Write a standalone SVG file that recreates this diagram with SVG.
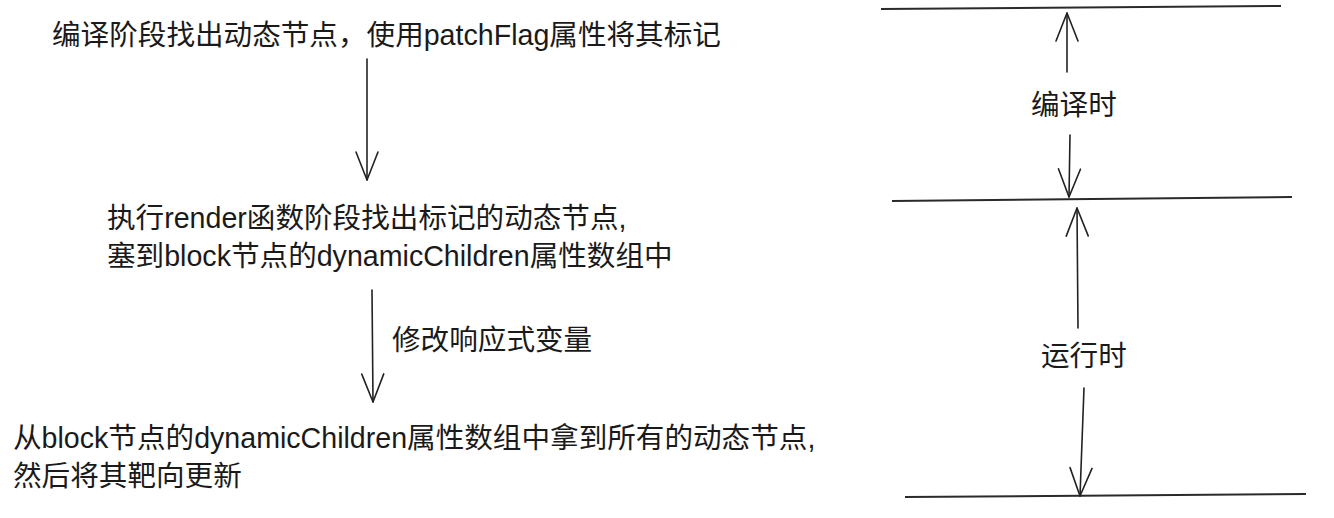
<svg xmlns="http://www.w3.org/2000/svg" width="1334" height="518" viewBox="0 0 1334 518">
<style>
  .t { font-family: "Liberation Sans", "Noto Sans CJK SC", sans-serif; font-size: 28.6px; fill: #1a1a1a; }
  .ln { stroke: #222; stroke-width: 1.6; fill: none; stroke-linecap: round; }
  .bar { stroke: #2a2a2a; stroke-width: 2; fill: none; }
</style>
<defs>
  <marker id="ah" viewBox="-30 -13 32 26" markerWidth="32" markerHeight="26" refX="0" refY="0" markerUnits="userSpaceOnUse" orient="auto" overflow="visible">
    <path d="M-28,-11 L0,0 L-28,11" fill="none" stroke="#222" stroke-width="1.6" stroke-linecap="round" stroke-linejoin="round"/>
  </marker>
</defs>
<rect width="1334" height="518" fill="#ffffff"/>

<g id="node-compile-step">
  <text class="t" x="52" y="45">编译阶段找出动态节点，使用patchFlag属性将其标记</text>
</g>
<g id="node-render-step">
  <text class="t" x="107" y="228">执行render函数阶段找出标记的动态节点,</text>
  <text class="t" x="107" y="266">塞到block节点的dynamicChildren属性数组中</text>
</g>
<g id="node-update-step">
  <text class="t" x="13" y="448">从block节点的dynamicChildren属性数组中拿到所有的动态节点,</text>
  <text class="t" x="13" y="486">然后将其靶向更新</text>
</g>
<g id="label-modify">
  <text class="t" x="392" y="350">修改响应式变量</text>
</g>
<g id="label-compile-time">
  <text class="t" x="1031" y="115">编译时</text>
</g>
<g id="label-runtime">
  <text class="t" x="1041" y="366">运行时</text>
</g>

<g id="boundaries">
  <line class="bar" x1="881" y1="9" x2="1281" y2="6"/>
  <line class="bar" x1="892" y1="201" x2="1292" y2="197"/>
  <line class="bar" x1="905" y1="497" x2="1306" y2="494"/>
</g>

<g id="connectors">
  <line class="ln" x1="367" y1="59" x2="367" y2="180" marker-end="url(#ah)"/>
  <line class="ln" x1="372" y1="290" x2="373" y2="402" marker-end="url(#ah)"/>
  <line class="ln" x1="1067" y1="72" x2="1067" y2="13" marker-end="url(#ah)"/>
  <line class="ln" x1="1070" y1="135" x2="1069" y2="197" marker-end="url(#ah)"/>
  <line class="ln" x1="1078" y1="328" x2="1077" y2="208" marker-end="url(#ah)"/>
  <line class="ln" x1="1084" y1="388" x2="1080" y2="496" marker-end="url(#ah)"/>
</g>
</svg>
